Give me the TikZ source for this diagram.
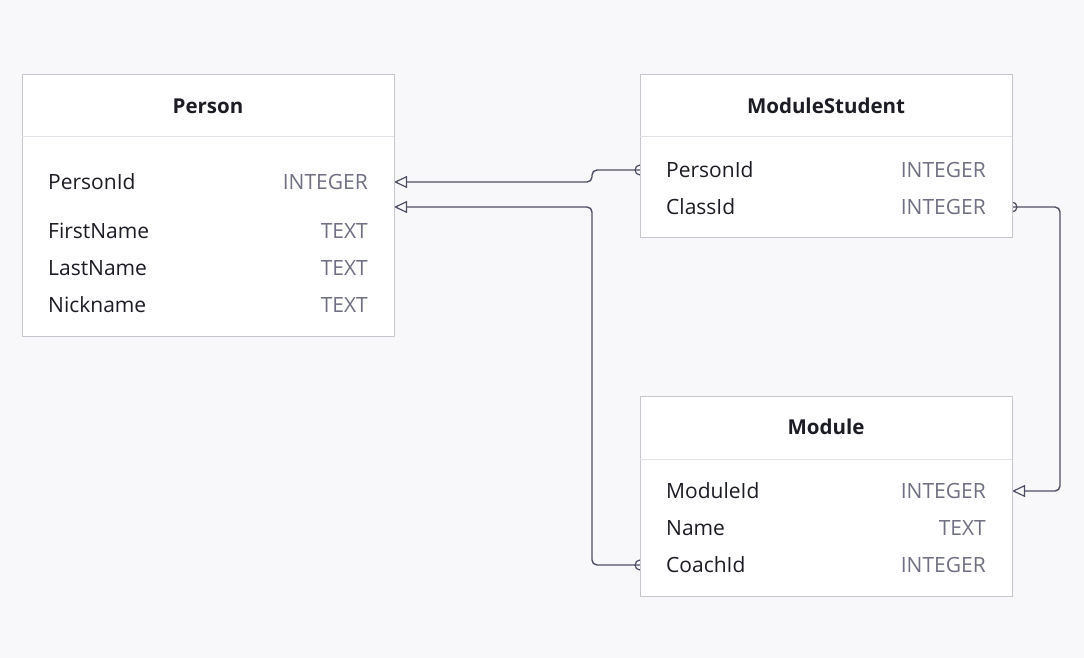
\documentclass[tikz,border=0pt]{standalone}
\usepackage{fontspec}
\setmainfont{Open Sans}
\usetikzlibrary{arrows.meta}
\definecolor{bg}{HTML}{F8F8FA}
\definecolor{boxborder}{HTML}{C6C6CE}
\definecolor{sep}{HTML}{E2E2E8}
\definecolor{conn}{HTML}{4E4E64}
\definecolor{typecol}{HTML}{707084}
\definecolor{namecol}{HTML}{1C1C24}
\tikzset{
  tbox/.style={draw=boxborder, line width=1pt, fill=white},
  tsep/.style={draw=sep, line width=1pt},
  ttitle/.style={font=\fontsize{20.5}{24}\selectfont\bfseries, text=namecol, inner sep=0pt},
  fname/.style={font=\fontsize{21}{25}\selectfont, text=namecol, anchor=west, inner sep=0pt},
  ftype/.style={font=\fontsize{21}{25}\selectfont, text=typecol, anchor=east, inner sep=0pt},
  conn/.style={draw=conn, line width=1.4pt, rounded corners=5pt},
  fk/.style={conn, -{Triangle[open, length=13pt, width=12pt, line width=1.2pt]}},
  knob/.style={draw=conn, line width=1.2pt, fill=bg, circle, minimum size=10pt, inner sep=0pt}
}
\begin{document}
\begin{tikzpicture}[x=1pt,y=-1pt]
\fill[bg] (0,0) rectangle (1084,658);
\useasboundingbox (0,0) rectangle (1084,658);
% anchors
\coordinate (pPid) at (394,182);
\coordinate (pIn2) at (394,207);
\coordinate (msPid) at (640,170);
\coordinate (msCid) at (1012,207);
\coordinate (mMid) at (1012,491);
\coordinate (mCoach) at (640,565);
% connector knobs (half hidden by boxes)
\node[knob] (k1) at (msPid) {};
\node[knob] (k2) at (msCid) {};
\node[knob] (k3) at (mCoach) {};
% connectors
\draw[fk] (msPid) -- (592,170) -- (592,182) -- (pPid);
\draw[fk] (mCoach) -- (592,565) -- (592,207) -- (pIn2);
\draw[fk] (msCid) -- (1060,207) -- (1060,491) -- (mMid);
% Person
\node[tbox, minimum width=372pt, minimum height=262pt, anchor=north west, inner sep=0pt] (person) at (22,74) {};
\draw[tsep] (22,137) -- (394,137);
\node[ttitle] (personT) at (208,106) {Person};
\node[fname] (p1) at (48,182) {PersonId};
\node[ftype] (p1t) at (368,182) {INTEGER};
\node[fname] (p2) at (48,231) {FirstName};
\node[ftype] (p2t) at (368,231) {TEXT};
\node[fname] (p3) at (48,268) {LastName};
\node[ftype] (p3t) at (368,268) {TEXT};
\node[fname] (p4) at (48,305) {Nickname};
\node[ftype] (p4t) at (368,305) {TEXT};
% ModuleStudent
\node[tbox, minimum width=372pt, minimum height=163pt, anchor=north west, inner sep=0pt] (ms) at (640,74) {};
\draw[tsep] (640,137) -- (1012,137);
\node[ttitle] (msT) at (826,106) {ModuleStudent};
\node[fname] (ms1) at (666,170) {PersonId};
\node[ftype] (ms1t) at (986,170) {INTEGER};
\node[fname] (ms2) at (666,207) {ClassId};
\node[ftype] (ms2t) at (986,207) {INTEGER};
% Module
\node[tbox, minimum width=372pt, minimum height=200pt, anchor=north west, inner sep=0pt] (mod) at (640,396) {};
\draw[tsep] (640,459) -- (1012,459);
\node[ttitle] (modT) at (826,427) {Module};
\node[fname] (m1) at (666,491) {ModuleId};
\node[ftype] (m1t) at (986,491) {INTEGER};
\node[fname] (m2) at (666,528) {Name};
\node[ftype] (m2t) at (986,528) {TEXT};
\node[fname] (m3) at (666,565) {CoachId};
\node[ftype] (m3t) at (986,565) {INTEGER};
\end{tikzpicture}
\end{document}
